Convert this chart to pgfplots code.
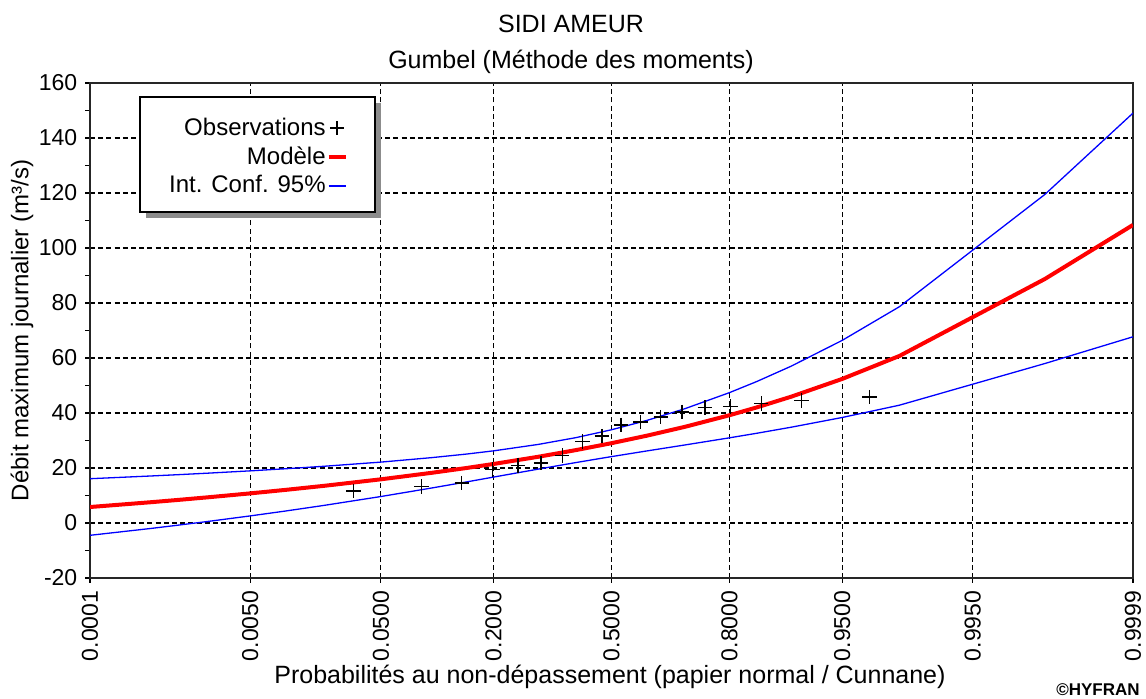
\documentclass[border=0pt]{standalone}
\usepackage{fontspec}
\setmainfont{Liberation Sans}
\usepackage{pgfplots}
\pgfplotsset{compat=1.18}

\begin{document}
\fontsize{11pt}{13pt}\selectfont
\begin{tikzpicture}
\path[use as bounding box] (-45pt,-60.5pt) rectangle (528pt,289pt);
\begin{axis}[
  at={(0pt,0pt)}, anchor=south west,
  scale only axis, width=521.5pt, height=247.5pt,
  xmin=-3.719, xmax=3.719, ymin=-20, ymax=160,
  xtick={-3.7190,-2.5758,-1.6449,-0.8416,0,0.8416,1.6449,2.5758,3.7190},
  xticklabels={0.0001,0.0050,0.0500,0.2000,0.5000,0.8000,0.9500,0.9950,0.9999},
  xticklabel style={rotate=90, anchor=east, font=\fontsize{11.5pt}{13pt}\selectfont},
  ytick={-20,0,...,160},
  minor y tick num=1,
  yticklabel style={font=\fontsize{11.5pt}{13pt}\selectfont},
  /pgf/number format/assume math mode=true,
  tick align=outside, xtick pos=bottom, ytick pos=left,
  major tick length=2.5pt, minor tick length=2.5pt,
  tick style={black, line width=0.6pt},
  axis line style={black!85, line width=0.9pt},
  grid=major,
  major grid style={black, line width=0.55pt, dash pattern=on 2.5pt off 1.6pt},
  legend plot pos=right,
  legend cell align=right,
  legend style={at={(0.2474,0.9384)}, anchor=north east, draw=none, fill=none,
    inner sep=0pt, row sep=0pt,
    nodes={inner xsep=0.5pt, inner ysep=2pt},
    font=\fontsize{12pt}{14pt}\selectfont},
  legend image code/.code={\draw[mark repeat=2,mark phase=2,#1] plot coordinates {(0pt,0pt) (4.25pt,0pt) (8.5pt,0pt)};},
]
% legend frame with shadow
\fill[black!45] ([xshift=28pt,yshift=180pt]rel axis cs:0,0) rectangle ([xshift=145.5pt,yshift=237.5pt]rel axis cs:0,0);
\draw[draw=black, fill=white, line width=0.75pt] ([xshift=25pt,yshift=183pt]rel axis cs:0,0) rectangle ([xshift=142.5pt,yshift=240.5pt]rel axis cs:0,0);
% Observations (Cunnane positions, n=18)
\addplot[only marks, mark=+, mark size=3.6pt, black, line width=0.75pt] coordinates {
(-1.839,11.6) (-1.354,13.3) (-1.068,14.5) (-0.849,19.5) (-0.666,20.9) (-0.502,21.8)
(-0.351,24.5) (-0.208,29.6) (-0.069,31.6) (0.069,35.6) (0.208,36.7) (0.351,38.5)
(0.502,40.4) (0.666,42.0) (0.849,42.3) (1.068,43.5) (1.354,44.6) (1.839,45.8)
};
\addlegendentry{Observations}
% Model
\addplot[red, line width=2pt] coordinates {
(-3.7190,5.81) (-3.2905,7.53) (-3.0902,8.39) (-2.8782,9.34) (-2.5758,10.77)
(-2.3263,12.03) (-2.0537,13.49) (-1.6449,15.88) (-1.2816,18.25) (-1.0364,19.98)
(-0.8416,21.46) (-0.5244,24.06) (-0.2533,26.51) (0,29.02) (0.2533,31.76)
(0.5244,34.98) (0.8416,39.19) (1.0364,42.04) (1.2816,45.93) (1.6449,52.38)
(2.0537,60.75) (3.0902,88.72) (3.7190,108.38)
};
\addlegendentry{Modèle}
% Confidence interval upper
\addplot[blue, line width=0.65pt] coordinates {
(-3.7190,16.10) (-3.2905,17.08) (-3.0902,17.57) (-2.8782,18.12) (-2.5758,18.96)
(-2.3263,19.72) (-2.0537,20.61) (-1.6449,22.14) (-1.2816,23.77) (-1.0364,25.05)
(-0.8416,26.23) (-0.5244,28.55) (-0.2533,31.04) (0,33.90) (0.2533,37.31)
(0.5244,41.58) (0.8416,47.41) (1.0364,51.45) (1.2816,57.03) (1.6449,66.40)
(2.0537,78.66) (3.0902,119.46) (3.7190,149.05)
};
\addlegendentry{Int. Conf. 95\%}
% Confidence interval lower
\addplot[blue, line width=0.65pt, forget plot] coordinates {
(-3.7190,-4.48) (-3.2905,-2.02) (-3.0902,-0.79) (-2.8782,0.56) (-2.5758,2.58)
(-2.3263,4.34) (-2.0537,6.37) (-1.6449,9.62) (-1.2816,12.73) (-1.0364,14.91)
(-0.8416,16.69) (-0.5244,19.57) (-0.2533,21.98) (0,24.14) (0.2533,26.21)
(0.5244,28.38) (0.8416,30.97) (1.0364,32.63) (1.2816,34.83) (1.6449,38.36)
(2.0537,42.84) (3.0902,57.98) (3.7190,67.71)
};
\end{axis}
\node[font=\fontsize{12.5pt}{14pt}\selectfont] at (240.5pt,277pt) {SIDI AMEUR};
\node[font=\fontsize{12.5pt}{14pt}\selectfont] at (240.5pt,258pt) {Gumbel (Méthode des moments)};
\node[rotate=90, font=\fontsize{12pt}{14pt}\selectfont] at (-34pt,123.75pt) {Débit maximum journalier (m³/s)};
\node[font=\fontsize{12.5pt}{14pt}\selectfont] at (260pt,-49.5pt) {Probabilités au non-dépassement (papier normal / Cunnane)};
\node[anchor=east, font=\bfseries\fontsize{8.5pt}{10pt}\selectfont, inner sep=0pt] at (525pt,-56pt) {©HYFRAN};
\end{tikzpicture}
\end{document}
